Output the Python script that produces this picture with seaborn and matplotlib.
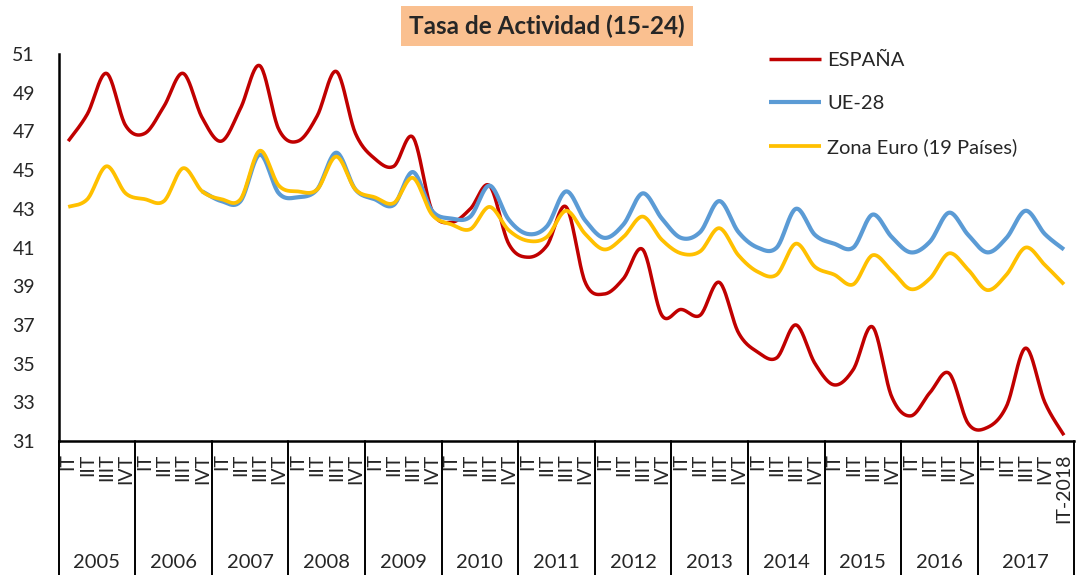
import numpy as np
import pandas as pd
import matplotlib
matplotlib.use("Agg")
import matplotlib.pyplot as plt
import matplotlib.transforms as mtransforms
import seaborn as sns

# Tasa de actividad (15-24), trimestral 2005-IT 2018
years = [2005, 2006, 2007, 2008, 2009, 2010, 2011, 2012, 2013, 2014, 2015, 2016, 2017]
quarters = ["IT", "IIT", "IIIT", "IVT"]
last_label = "IT-2018"

espana = [46.5, 47.9, 50.0, 47.3, 46.9, 48.3, 50.0, 47.7, 46.5, 48.2, 50.4, 47.1,
          46.5, 47.8, 50.1, 46.9, 45.6, 45.2, 46.7, 42.9, 42.3, 43.0, 44.2, 41.2,
          40.5, 41.1, 43.1, 39.2, 38.6, 39.4, 40.9, 37.5, 37.8, 37.5, 39.2, 36.6,
          35.6, 35.3, 37.0, 35.0, 33.9, 34.7, 36.9, 33.3, 32.3, 33.5, 34.5, 31.9,
          31.7, 32.8, 35.8, 33.0, 31.3]
ue28 = [np.nan] * 7 + [43.9, 43.4, 43.4, 45.8, 43.8, 43.6, 44.0, 45.9, 44.0,
                       43.5, 43.2, 44.9, 42.9, 42.5, 42.6, 44.2, 42.45, 41.7, 42.1,
                       43.9, 42.4, 41.5, 42.2, 43.8, 42.5, 41.5, 41.8, 43.4, 41.8,
                       41.0, 41.0, 43.0, 41.65, 41.2, 41.0, 42.7, 41.55, 40.75, 41.3,
                       42.8, 41.65, 40.75, 41.5, 42.9, 41.7, 40.9]
zona_euro = [43.1, 43.5, 45.2, 43.8, 43.5, 43.4, 45.1, 43.9, 43.5, 43.5, 46.0, 44.2,
             43.9, 44.0, 45.7, 44.0, 43.6, 43.3, 44.6, 42.7, 42.2, 41.95, 43.1, 41.9,
             41.35, 41.55, 42.9, 41.7, 40.9, 41.55, 42.6, 41.4, 40.7, 40.8, 42.0, 40.6,
             39.75, 39.6, 41.2, 40.0, 39.6, 39.1, 40.6, 39.8, 38.85, 39.4, 40.7, 39.85,
             38.8, 39.6, 41.0, 40.1, 39.1]

series = [("ESPAÑA", espana, "#C00000", 2.5),
          ("UE-28", ue28, "#5B9BD5", 3.0),
          ("Zona Euro (19 Países)", zona_euro, "#FFC000", 2.7)]


def smooth(x, y, n=24):
    """Catmull-Rom curve through the points, like Excel's smoothed lines."""
    x = np.asarray(x, float)
    y = np.asarray(y, float)
    px = np.concatenate([[x[0]], x, [x[-1]]])
    py = np.concatenate([[y[0]], y, [y[-1]]])
    t = np.linspace(0, 1, n, endpoint=False)
    out_x, out_y = [], []
    for i in range(len(x) - 1):
        for p, out in ((px, out_x), (py, out_y)):
            p0, p1, p2, p3 = p[i:i + 4]
            out.extend(0.5 * (2 * p1 + (-p0 + p2) * t
                              + (2 * p0 - 5 * p1 + 4 * p2 - p3) * t ** 2
                              + (-p0 + 3 * p1 - 3 * p2 + p3) * t ** 3))
    out_x.append(x[-1])
    out_y.append(y[-1])
    return np.array(out_x), np.array(out_y)


sns.set_style("white")
plt.rcParams["font.family"] = ["Lato", "DejaVu Sans"]

labels = [q for _ in years for q in quarters] + [last_label]
pos = np.arange(len(labels))

fig = plt.figure(figsize=(10.76, 5.75), dpi=100)
ax = fig.add_axes([0.0545, 0.2330, 0.9432, 0.6730])

for name, vals, color, lw in series:
    vals = np.asarray(vals, float)
    ok = ~np.isnan(vals)
    sx, sy = smooth(pos[ok], vals[ok])
    df = pd.DataFrame({"x": sx, "y": sy})
    sns.lineplot(data=df, x="x", y="y", ax=ax, color=color, lw=lw, sort=False,
                 estimator=None, label=name, solid_capstyle="butt")

ax.set_xlim(-0.5, len(labels) - 0.5)
ax.set_ylim(31, 51)
ax.set_yticks(range(31, 52, 2))
ax.set_xticks(pos)
ax.set_xticklabels(labels, rotation=90, fontsize=14)
ax.tick_params(axis="x", length=0, pad=9)
ax.tick_params(axis="y", length=0, pad=17, labelsize=14)
ax.set_xlabel("")
ax.set_ylabel("")
sns.despine(ax=ax)
for s in ("left", "bottom"):
    ax.spines[s].set_linewidth(1.8)
    ax.spines[s].set_color("black")

# year groups under the quarter labels
trans = mtransforms.blended_transform_factory(ax.transData, ax.transAxes)
bounds = [-0.5 + 4 * k for k in range(len(years))] + [len(labels) - 0.5]
for b in bounds:
    ax.plot([b, b], [0, -0.37], transform=trans, clip_on=False, color="black", lw=1.4)
for k, yr in enumerate(years):
    ax.text((bounds[k] + bounds[k + 1]) / 2, -0.315, str(yr), transform=trans,
            ha="center", va="center", fontsize=14.5)

leg = ax.legend(loc="upper left", bbox_to_anchor=(0.705, 0.928),
                bbox_transform=fig.transFigure, frameon=False, fontsize=14.5,
                handlelength=2.6, handletextpad=0.3, labelspacing=1.3, borderpad=0)

fig.text(547 / 1076, 1 - 26 / 575, "Tasa de Actividad (15-24)", ha="center", va="center",
         fontsize=17.5, fontweight="bold",
         bbox=dict(boxstyle="square,pad=0.33", fc="#FAC090", ec="none"))

fig.savefig("out.png", dpi=100)
